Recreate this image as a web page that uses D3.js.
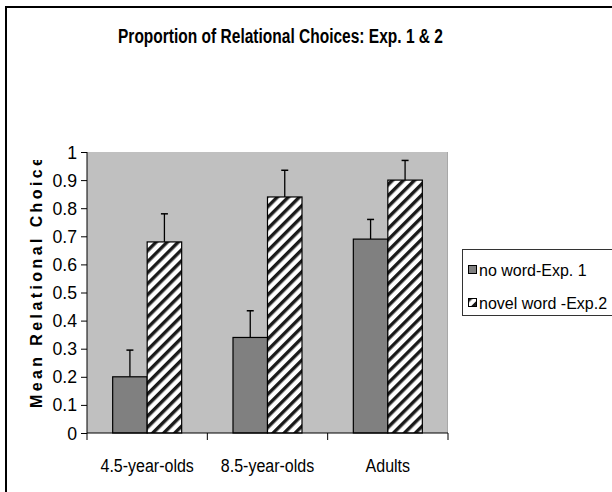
<!DOCTYPE html>
<html>
<head>
<meta charset="utf-8">
<script src="https://cdn.jsdelivr.net/npm/d3@7"></script>
<style>
  html, body { margin: 0; padding: 0; background: #fff; }
  svg { display: block; font-family: Arial, "Liberation Sans", sans-serif; }
</style>
</head>
<body>
<script>
// ---- data ----
const categories = ["4.5-year-olds", "8.5-year-olds", "Adults"];
const seriesNames = ["no word-Exp. 1", "novel word -Exp.2"];
const noWord = [0.20, 0.34, 0.69];
const novelWord = [0.68, 0.84, 0.90];
const noWordErr = [0.095, 0.095, 0.07];
const novelWordErr = [0.10, 0.095, 0.07];
const yTicks = [0, 0.1, 0.2, 0.3, 0.4, 0.5, 0.6, 0.7, 0.8, 0.9, 1];
const title = "Proportion of Relational Choices: Exp. 1 & 2";
const yTitle = "Mean Relational Choice";

const W = 612, H = 492;
const plot = { left: 87, right: 448, top: 152, bottom: 433 };

const svg = d3.select("body").append("svg").attr("width", W).attr("height", H);
const defs = svg.append("defs");

const pat = defs.append("pattern")
  .attr("id", "hatch").attr("patternUnits", "userSpaceOnUse")
  .attr("width", 7.8).attr("height", 7.8)
  .attr("patternTransform", "rotate(45)");
pat.append("rect").attr("width", 7.8).attr("height", 7.8).attr("fill", "#fff");
pat.append("rect").attr("x", 0).attr("width", 3.4).attr("height", 7.8).attr("fill", "#1a1a1a");

defs.append("clipPath").attr("id", "ytclip")
  .append("rect").attr("x", 0).attr("y", 160).attr("width", 80).attr("height", 300);

// outer border
svg.append("rect").attr("x", 6).attr("y", 7).attr("width", 640).attr("height", 520)
  .attr("fill", "none").attr("stroke", "#000").attr("stroke-width", 2);

// title
svg.append("text").attr("x", 280.5).attr("y", 43).attr("text-anchor", "middle")
  .attr("font-size", 20).attr("font-weight", "bold")
  .attr("textLength", 325).attr("lengthAdjust", "spacingAndGlyphs")
  .text(title);

// scales
const x = d3.scaleBand().domain(categories).range([plot.left, plot.right]).padding(0);
const bw = x.bandwidth();
const xs = d3.scaleBand().domain(seriesNames).range([bw / 2 - 34.5, bw / 2 + 34.5]).padding(0);
const y = d3.scaleLinear().domain([0, 1]).range([plot.bottom, plot.top]);

// plot area
svg.append("rect").attr("x", plot.left).attr("y", plot.top)
  .attr("width", plot.right - plot.left).attr("height", plot.bottom - plot.top)
  .attr("fill", "#c0c0c0");
svg.append("line").attr("x1", plot.right - 0.5).attr("x2", plot.right - 0.5)
  .attr("y1", plot.top).attr("y2", plot.bottom).attr("stroke", "#a8a8a8").attr("stroke-width", 1);

// data rows
const rows = categories.map((c, i) => ({
  cat: c,
  vals: [
    { s: seriesNames[0], v: noWord[i], e: noWordErr[i], fill: "#808080" },
    { s: seriesNames[1], v: novelWord[i], e: novelWordErr[i], fill: "url(#hatch)" }
  ]
}));

const g = svg.append("g").selectAll("g").data(rows).join("g")
  .attr("transform", d => `translate(${x(d.cat)},0)`);

// error bars
g.selectAll("line.err").data(d => d.vals).join("line").attr("class", "err")
  .attr("x1", d => xs(d.s) + xs.bandwidth() / 2).attr("x2", d => xs(d.s) + xs.bandwidth() / 2)
  .attr("y1", d => y(d.v)).attr("y2", d => y(d.v + d.e))
  .attr("stroke", "#000").attr("stroke-width", 1.3);
g.selectAll("line.cap").data(d => d.vals).join("line").attr("class", "cap")
  .attr("x1", d => xs(d.s) + xs.bandwidth() / 2 - 3.5).attr("x2", d => xs(d.s) + xs.bandwidth() / 2 + 3.5)
  .attr("y1", d => y(d.v + d.e)).attr("y2", d => y(d.v + d.e))
  .attr("stroke", "#000").attr("stroke-width", 1.5);

g.selectAll("rect.bar").data(d => d.vals).join("rect").attr("class", "bar")
  .attr("x", d => xs(d.s)).attr("width", xs.bandwidth())
  .attr("y", d => y(d.v)).attr("height", d => y(0) - y(d.v))
  .attr("fill", d => d.fill).attr("stroke", "#000").attr("stroke-width", 1.2);

// y axis
const yAxis = svg.append("g").attr("transform", `translate(${plot.left},0)`)
  .call(d3.axisLeft(y).tickValues(yTicks).tickSize(6).tickPadding(4).tickFormat(d3.format("")));
yAxis.select(".domain").attr("stroke", "#000").attr("d", `M0,${plot.top}V${plot.bottom}`);
yAxis.selectAll("line").attr("stroke", "#000");
yAxis.selectAll("text").attr("font-size", 19).attr("fill", "#000")
  .attr("font-family", "Arial, 'Liberation Sans', sans-serif")
  .each(function () {
    const t = d3.select(this);
    const w = this.getComputedTextLength();
    t.attr("textLength", w * 0.93).attr("lengthAdjust", "spacingAndGlyphs");
  });

// x axis
const xAxis = svg.append("g").attr("transform", `translate(0,${plot.bottom})`)
  .call(d3.axisBottom(x).tickSize(0).tickPadding(0));
xAxis.select(".domain").attr("stroke", "#000").attr("d", `M${plot.left},0H${plot.right}`);
xAxis.selectAll("text").attr("fill", "#000").attr("dy", null).attr("y", 39)
  .attr("font-family", "Arial, 'Liberation Sans', sans-serif")
  .attr("font-size", 16)
  .each(function () {
    const w = this.getComputedTextLength();
    d3.select(this).attr("font-size", 18).attr("textLength", w).attr("lengthAdjust", "spacingAndGlyphs");
  });
// category boundary ticks
const bounds = categories.map(c => x(c)).concat([plot.right]);
xAxis.selectAll("line.bound").data(bounds).join("line").attr("class", "bound")
  .attr("x1", d => d).attr("x2", d => d).attr("y1", 0).attr("y2", 7).attr("stroke", "#000");

// y title
svg.append("g").attr("clip-path", "url(#ytclip)")
  .append("text").attr("transform", "translate(42,408) rotate(-90)")
  .attr("font-size", 16).attr("font-weight", "bold").attr("letter-spacing", 3.4)
  .text(yTitle);

// legend
const lg = svg.append("g");
lg.append("rect").attr("x", 462.5).attr("y", 249.5).attr("width", 200).attr("height", 66)
  .attr("fill", "#fff").attr("stroke", "#333").attr("stroke-width", 1);
const items = [
  { s: seriesNames[0], fill: "#808080" },
  { s: seriesNames[1], fill: "url(#hatch)" }
];
const li = lg.selectAll("g.item").data(items).join("g").attr("class", "item")
  .attr("transform", (d, i) => `translate(0,${270 + i * 33})`);
li.append("rect").attr("x", 468.5).attr("y", -4.5).attr("width", 8).attr("height", 8)
  .attr("fill", d => d.fill).attr("stroke", "#000").attr("stroke-width", 1);
li.append("text").attr("x", 479).attr("y", 6).attr("font-size", 16).text(d => d.s);
</script>
</body>
</html>
